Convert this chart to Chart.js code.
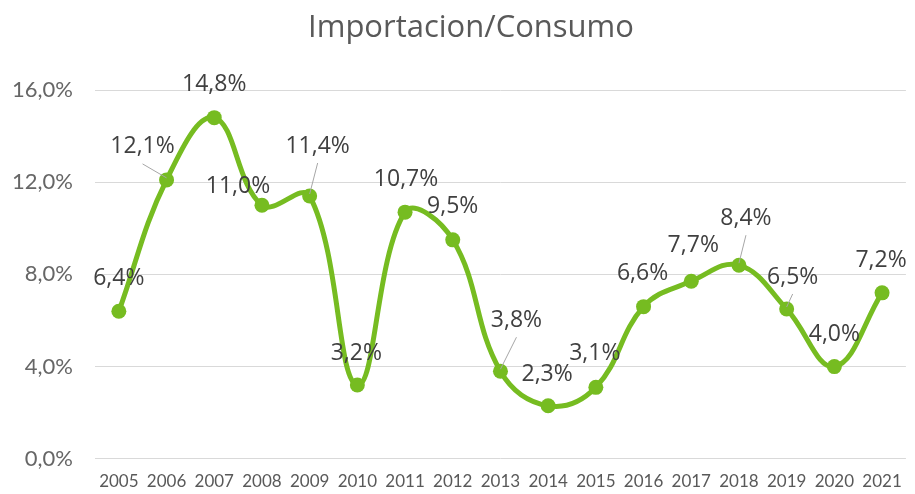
<!DOCTYPE html>
<html>
<head>
<meta charset="utf-8">
<script src="https://cdn.jsdelivr.net/npm/chart.js@4.4.4/dist/chart.umd.min.js"></script>
<style>
  html, body { margin: 0; padding: 0; background: #fff; }
  #wrap { width: 915px; height: 494px; position: relative; }
</style>
</head>
<body>
<div id="wrap"><canvas id="chart"></canvas></div>
<script>
// Importacion/Consumo, 2005-2021, smoothed line with per-point value labels.
const chartTitle = 'Importacion/Consumo';
const years = ['2005', '2006', '2007', '2008', '2009', '2010', '2011', '2012', '2013',
  '2014', '2015', '2016', '2017', '2018', '2019', '2020', '2021'];
const ratio = [6.4, 12.1, 14.8, 11.0, 11.4, 3.2, 10.7, 9.5, 3.8, 2.3, 3.1, 6.6, 7.7, 8.4, 6.5, 4.0, 7.2];
const yTicks = [0, 4, 8, 12, 16];

// label placement relative to each point (dx, dy, leader line)
const labelPlace = [
  [0, -33, false], [-24, -33, true], [0, -33, false], [-24, -19, false], [8, -50, true],
  [-1, -32, false], [1, -33, false], [0, -33, false], [16, -51, true], [-1, -31, false],
  [-1, -34, false], [-1, -33, false], [2, -36, false], [7, -47, true], [6, -32, true],
  [0, -32, false], [-1, -32, false],
];

const GREEN = '#76BC21';
const fmt = (v) => v.toFixed(1).replace('.', ',') + '%';

// Excel centres the title a bit right of the canvas middle, so draw it by hand.
const titlePlugin = {
  id: 'titleText',
  afterDraw(chart) {
    const { ctx } = chart;
    ctx.save();
    ctx.font = '31px "Open Sans", sans-serif';
    ctx.fillStyle = '#595959';
    ctx.textAlign = 'center';
    ctx.textBaseline = 'middle';
    ctx.fillText(chartTitle, 471, 28);
    ctx.restore();
  },
};

const valueLabels = {
  id: 'valueLabels',
  afterDatasetsDraw(chart) {
    const { ctx } = chart;
    const pts = chart.getDatasetMeta(0).data;
    ctx.save();
    ctx.font = '23px "Open Sans", sans-serif';
    ctx.textAlign = 'center';
    ctx.textBaseline = 'middle';
    pts.forEach((p, i) => {
      const [dx, dy, leader] = labelPlace[i];
      const lx = p.x + dx, ly = p.y + dy;
      if (leader) {
        ctx.strokeStyle = '#A6A6A6';
        ctx.lineWidth = 1;
        ctx.beginPath();
        ctx.moveTo(lx, ly + 17);
        ctx.lineTo(p.x, p.y - 2);
        ctx.stroke();
      }
      ctx.fillStyle = '#404040';
      ctx.fillText(fmt(ratio[i]), lx, ly);
    });
    ctx.restore();
  },
};

new Chart(document.getElementById('chart'), {
  type: 'line',
  data: {
    labels: years,
    datasets: [{
      data: ratio,
      borderColor: GREEN,
      backgroundColor: GREEN,
      borderWidth: 5,
      tension: 0.4,
      pointRadius: 7.5,
      pointHoverRadius: 7.5,
      pointBorderWidth: 0,
      fill: false,
    }],
  },
  options: {
    responsive: true,
    maintainAspectRatio: false,
    animation: false,
    layout: { padding: { left: 0, right: 4, top: 90, bottom: 0 } },
    plugins: {
      legend: { display: false },
      tooltip: { enabled: false },
      title: { display: false },
    },
    scales: {
      x: {
        offset: true,
        grid: { display: false, drawTicks: false },
        border: { display: false },
        ticks: {
          color: '#595959',
          font: { family: 'Lato, sans-serif', size: 17 },
          padding: 13,
          maxRotation: 0,
          autoSkip: false,
        },
        afterFit(scale) { scale.height = 33; },
      },
      y: {
        min: 0,
        max: 16,
        afterBuildTicks(scale) { scale.ticks = yTicks.map((v) => ({ value: v })); },
        grid: { color: '#D9D9D9', lineWidth: 1, drawTicks: false },
        border: { display: false },
        ticks: {
          color: '#666666',
          font: { family: 'Lato, sans-serif', size: 22 },
          padding: 22,
          callback: (v) => fmt(v),
        },
        afterFit(scale) { scale.width = 95; },
      },
    },
  },
  plugins: [valueLabels, titlePlugin],
});
</script>
</body>
</html>
